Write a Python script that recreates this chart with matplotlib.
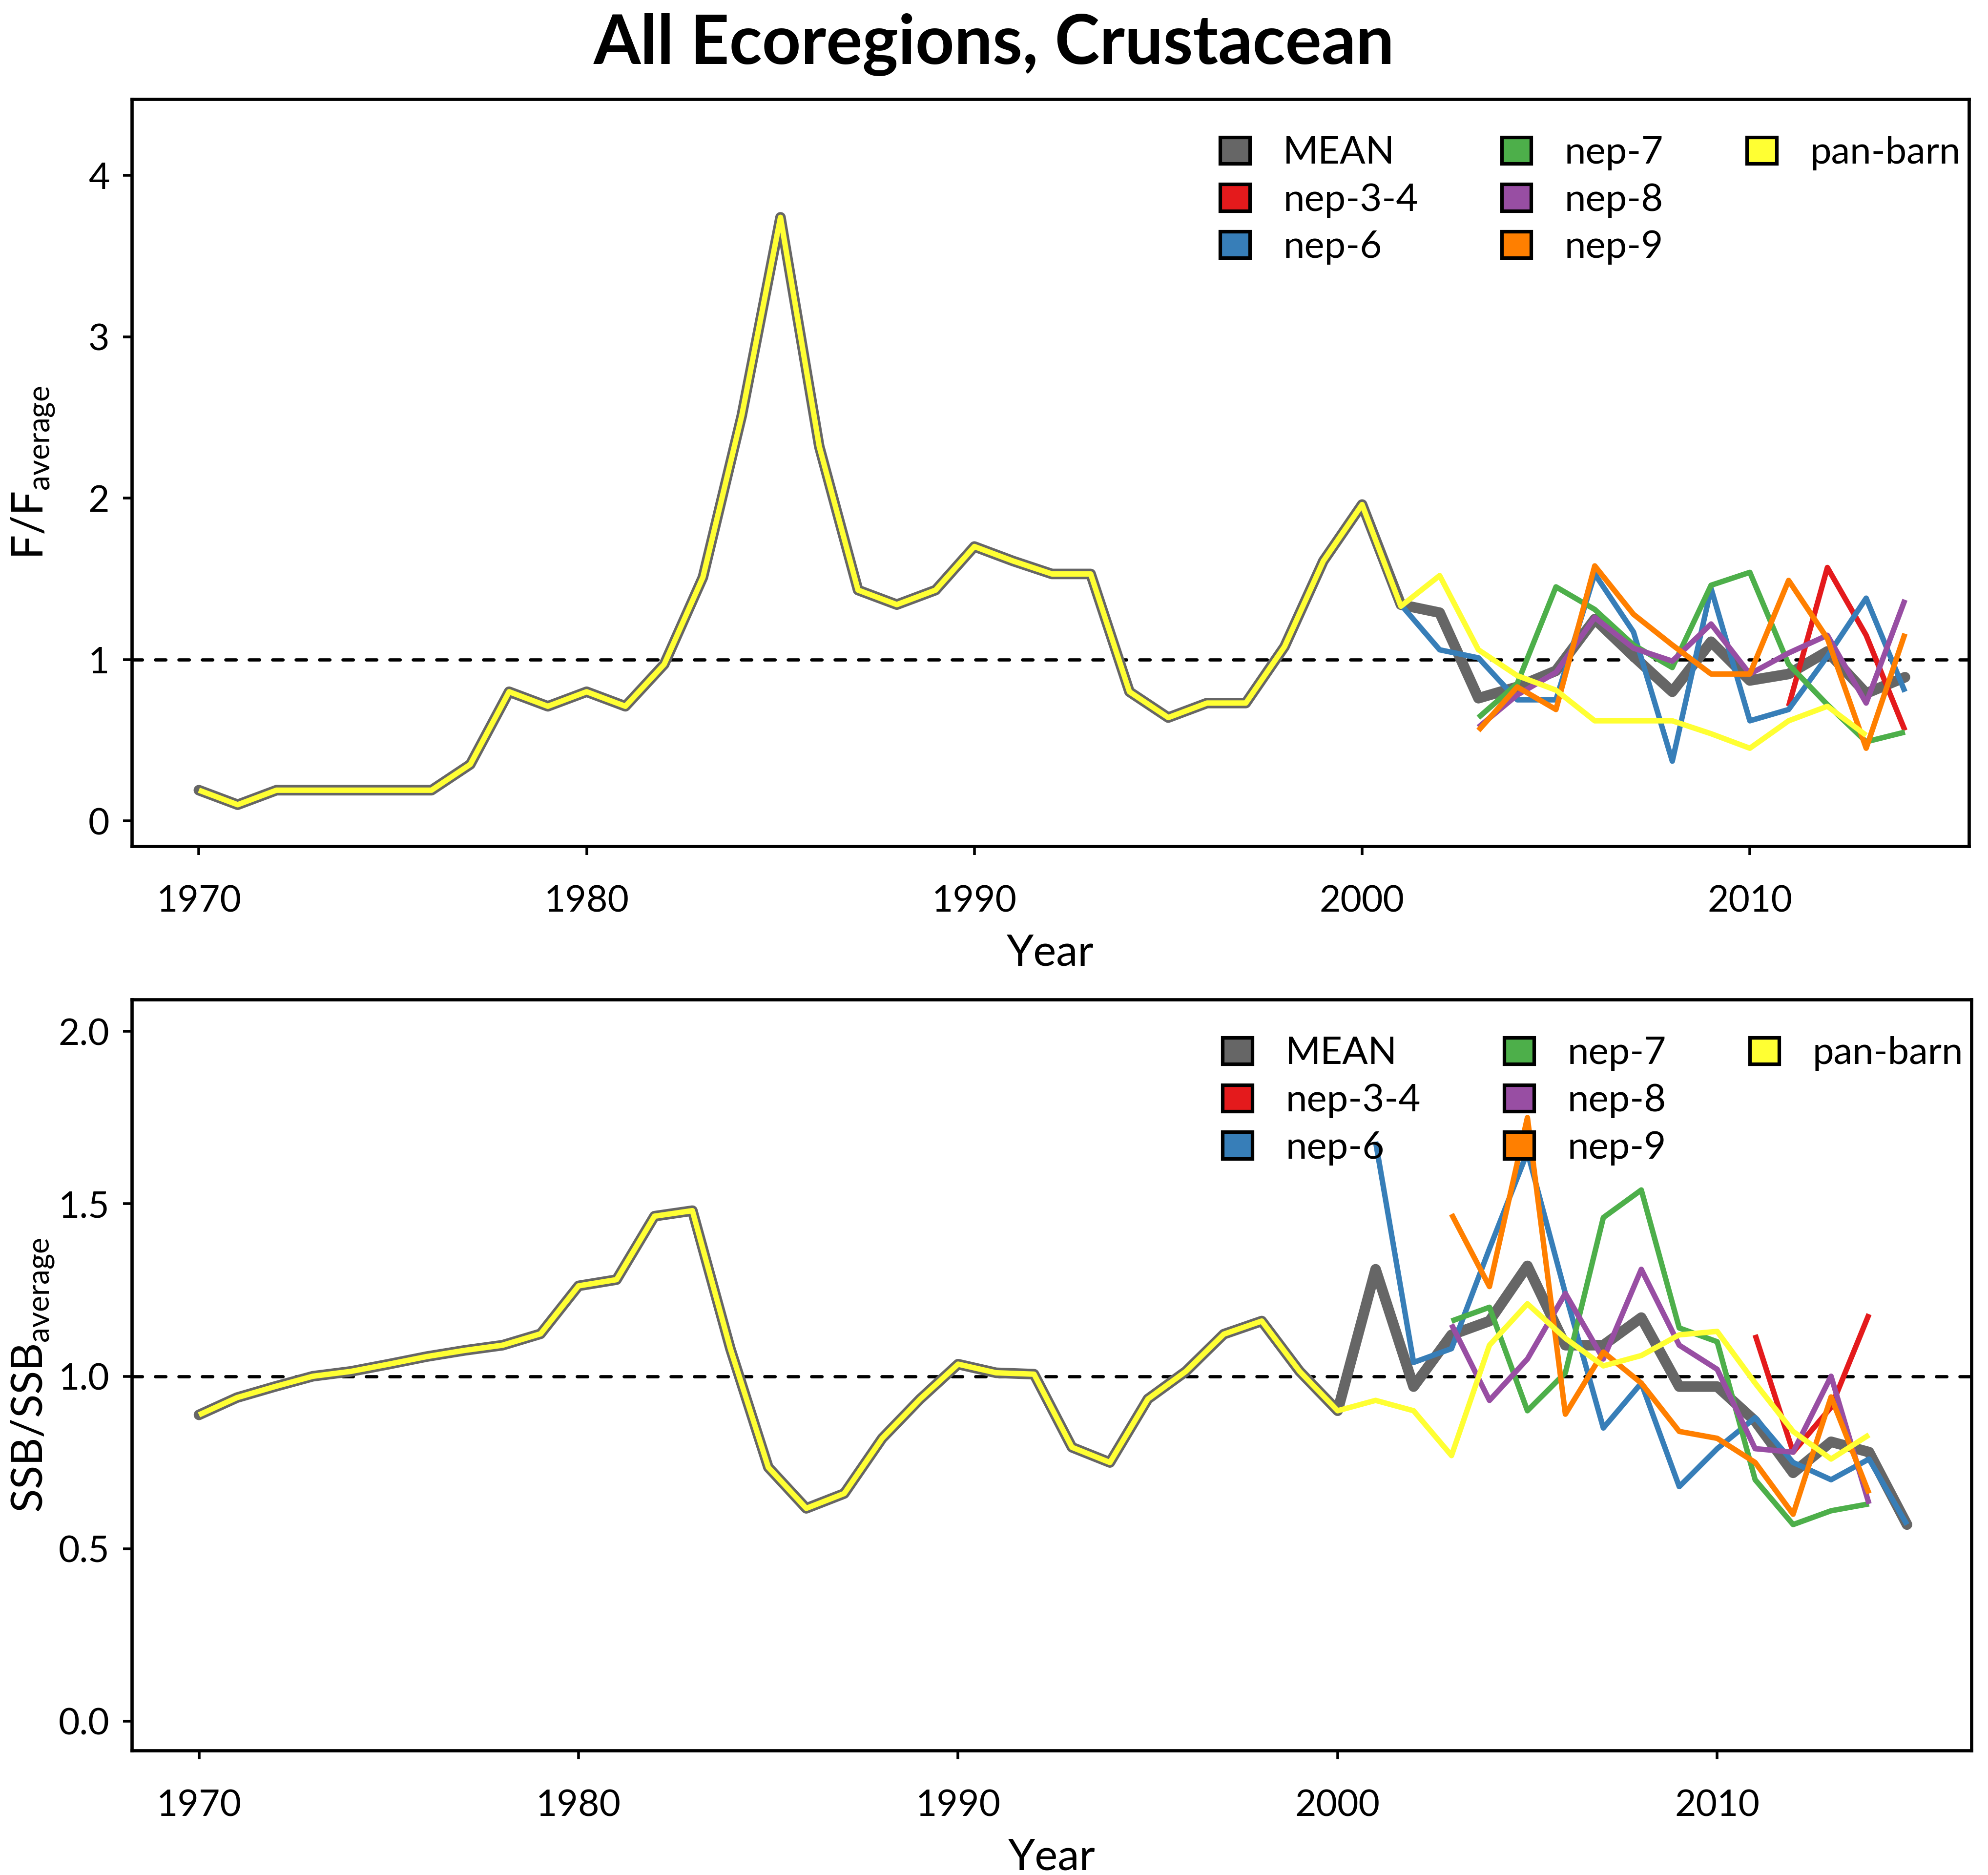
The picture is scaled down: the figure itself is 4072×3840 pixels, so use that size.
import matplotlib
matplotlib.use("Agg")
import matplotlib.pyplot as plt
from matplotlib.patches import Patch

plt.rcParams['font.family'] = ['Lato', 'DejaVu Sans']

# ---- data ----
years_f = list(range(1970, 2015))
years_ssb = list(range(1970, 2016))

# F / F_average
mean_f = [0.19, 0.10, 0.19, 0.19, 0.19, 0.19, 0.19, 0.35, 0.80, 0.71,
          0.80, 0.71, 0.97, 1.51, 2.51, 3.74, 2.32, 1.43, 1.34, 1.43,
          1.70, 1.61, 1.53, 1.53, 0.80, 0.64, 0.73, 0.73, 1.08, 1.61,
          1.96, 1.34, 1.29, 0.76, 0.83, 0.93, 1.25, 1.02, 0.80, 1.11,
          0.87, 0.91, 1.05, 0.79, 0.89]
pan_barn_f = [0.19, 0.10, 0.19, 0.19, 0.19, 0.19, 0.19, 0.35, 0.80, 0.71,
              0.80, 0.71, 0.97, 1.51, 2.51, 3.74, 2.32, 1.43, 1.34, 1.43,
              1.70, 1.61, 1.53, 1.53, 0.80, 0.64, 0.73, 0.73, 1.08, 1.61,
              1.96, 1.33, 1.52, 1.06, 0.90, 0.81, 0.62, 0.62, 0.62, 0.54,
              0.45, 0.62, 0.71, 0.53]
nep34_f = [0.71, 1.57, 1.15, 0.56]
nep6_f = [1.34, 1.06, 1.01, 0.75, 0.75, 1.53, 1.17, 0.37, 1.44, 0.62,
          0.69, 1.02, 1.38, 0.80]
nep7_f = [0.64, 0.85, 1.45, 1.31, 1.09, 0.95, 1.46, 1.54, 0.97, 0.72, 0.49, 0.55]
nep8_f = [0.58, 0.78, 0.92, 1.26, 1.07, 0.99, 1.22, 0.91, 1.04, 1.15, 0.73, 1.37]
nep9_f = [0.56, 0.83, 0.69, 1.58, 1.28, 1.09, 0.91, 0.91, 1.49, 1.13, 0.45, 1.16]

# SSB / SSB_average
mean_ssb = [0.888, 0.938, 0.97, 1.0, 1.014, 1.035, 1.057, 1.075, 1.09, 1.123,
            1.262, 1.28, 1.464, 1.48, 1.08, 0.736, 0.617, 0.66, 0.82, 0.934,
            1.035, 1.01, 1.006, 0.794, 0.75, 0.934, 1.014, 1.122, 1.16, 1.014,
            0.90, 1.31, 0.97, 1.12, 1.16, 1.32, 1.09, 1.09, 1.17, 0.97,
            0.97, 0.87, 0.72, 0.81, 0.78, 0.57]
pan_barn_ssb = [0.888, 0.938, 0.97, 1.0, 1.014, 1.035, 1.057, 1.075, 1.09, 1.123,
                1.262, 1.28, 1.464, 1.48, 1.08, 0.736, 0.617, 0.66, 0.82, 0.934,
                1.035, 1.01, 1.006, 0.794, 0.75, 0.934, 1.014, 1.122, 1.16, 1.014,
                0.90, 0.93, 0.90, 0.77, 1.09, 1.21, 1.11, 1.03, 1.06, 1.12,
                1.13, 0.98, 0.84, 0.76, 0.83]
nep34_ssb = [1.12, 0.78, 0.91, 1.18]
nep6_ssb = [1.68, 1.04, 1.08, 1.37, 1.65, 1.24, 0.85, 0.98, 0.68, 0.79,
            0.88, 0.75, 0.70, 0.76, 0.57]
nep7_ssb = [1.16, 1.20, 0.90, 1.01, 1.46, 1.54, 1.14, 1.10, 0.70, 0.57, 0.61, 0.63]
nep8_ssb = [1.15, 0.93, 1.05, 1.24, 1.05, 1.31, 1.09, 1.02, 0.79, 0.78, 1.00, 0.63]
nep9_ssb = [1.47, 1.26, 1.75, 0.89, 1.07, 0.98, 0.84, 0.82, 0.75, 0.60, 0.94, 0.66]

labels = ['MEAN', 'nep-3-4', 'nep-6', 'nep-7', 'nep-8', 'nep-9', 'pan-barn']
colors = ['#666666', '#E41A1C', '#377EB8', '#4DAF4A', '#984EA3', '#FF7F00', '#FFFF33']

# first year of each stock series
starts = {'nep-3-4': 2011, 'nep-6': 2001, 'nep-7': 2003, 'nep-8': 2003,
          'nep-9': 2003, 'pan-barn': 1970}

panels = [
    dict(mean=(years_f, mean_f),
         series={'nep-3-4': nep34_f, 'nep-6': nep6_f, 'nep-7': nep7_f,
                 'nep-8': nep8_f, 'nep-9': nep9_f, 'pan-barn': pan_barn_f},
         ylabel=r'F/F$_{\mathregular{average}}$',
         xlim=(1968.27, 2015.65), ylim=(-0.157, 4.472),
         yticks=[0, 1, 2, 3, 4], yfmt='{:.0f}',
         rect=[0.0663, 0.5487, 0.9241, 0.3984]),
    dict(mean=(years_ssb, mean_ssb),
         series={'nep-3-4': nep34_ssb, 'nep-6': nep6_ssb, 'nep-7': nep7_ssb,
                 'nep-8': nep8_ssb, 'nep-9': nep9_ssb, 'pan-barn': pan_barn_ssb},
         ylabel=r'SSB/SSB$_{\mathregular{average}}$',
         xlim=(1968.23, 2016.7), ylim=(-0.085, 2.092),
         yticks=[0.0, 0.5, 1.0, 1.5, 2.0], yfmt='{:.1f}',
         rect=[0.0663, 0.0664, 0.9254, 0.4005]),
]

fig = plt.figure(figsize=(10.18, 9.6), dpi=400)
fig.suptitle('All Ecoregions, Crustacean', fontsize=25, fontweight='bold', y=0.993)

for p in panels:
    ax = fig.add_axes(p['rect'])
    ax.axhline(1, color='black', lw=1.2, ls=(0, (3.2, 4.0)), dash_capstyle='round', zorder=1)
    mx, my = p['mean']
    ax.plot(mx, my, color=colors[0], lw=3.9, solid_capstyle='round',
            solid_joinstyle='round', zorder=2)
    for name, col in zip(labels[1:], colors[1:]):
        vals = p['series'][name]
        xs = list(range(starts[name], starts[name] + len(vals)))
        ax.plot(xs, vals, color=col, lw=2.0, solid_capstyle='butt',
                solid_joinstyle='round', zorder=3)

    ax.set_xlim(*p['xlim'])
    ax.set_ylim(*p['ylim'])
    ax.set_xticks([1970, 1980, 1990, 2000, 2010])
    ax.set_yticks(p['yticks'])
    ax.set_yticklabels([p['yfmt'].format(v) for v in p['yticks']])
    ax.tick_params(axis='both', direction='out', length=3.2, width=1.0,
                   labelsize=13.5, colors='black')
    ax.tick_params(axis='x', pad=11)
    ax.tick_params(axis='y', pad=5)
    for s in ax.spines.values():
        s.set_linewidth(1.2)
        s.set_color('black')
    ax.set_xlabel('Year', fontsize=16, labelpad=5.5)
    ax.set_ylabel(p['ylabel'], fontsize=16)
    ax.yaxis.set_label_coords(-0.041, 0.5)

    # 3 columns filled 3-3-1 like the original, so pad with two blank entries
    handles = [Patch(facecolor=c, edgecolor='black', linewidth=1.3) for c in colors]
    handles += [Patch(visible=False), Patch(visible=False)]
    ax.legend(handles, labels + ['', ''], ncol=3, loc='upper right',
              bbox_to_anchor=(0.9955, 0.951), frameon=False, fontsize=14,
              handlelength=0.78, handleheight=0.7, handletextpad=0.88,
              columnspacing=2.2, labelspacing=0.33, borderaxespad=0, borderpad=0)

fig.savefig('out.png', dpi=400)
